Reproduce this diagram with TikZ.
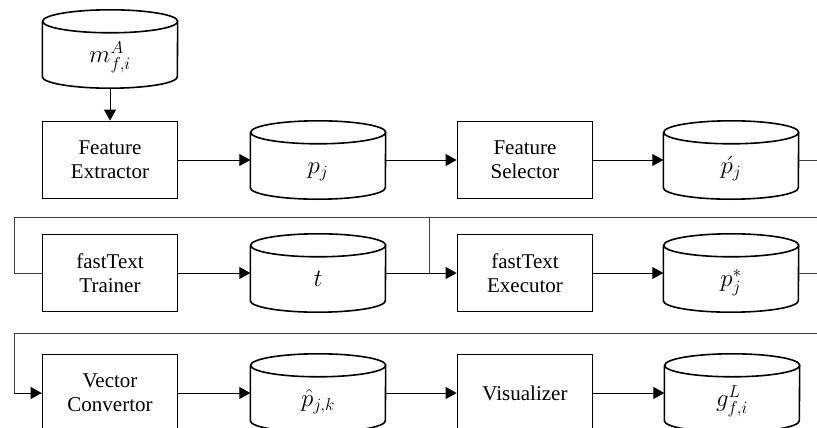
\documentclass[tikz,border=0pt]{standalone}
\usepackage{amsmath}
\usepackage{fontspec}
\setmainfont{Liberation Serif}
\usetikzlibrary{arrows.meta}
\usetikzlibrary{positioning}
\newcommand{\dsym}[1]{{\fontsize{23}{26}\selectfont$#1$}}
% cylinder outline round a store node
\newcommand{\drum}[1]{%
	\draw[drum] ([yshift=-11.5pt]#1.north west) -- ([yshift=11.5pt]#1.south west)
	arc[start angle=180, end angle=360, x radius=67.5pt, y radius=11.5pt]
	-- ([yshift=-11.5pt]#1.north east)
	arc[start angle=0, end angle=180, x radius=67.5pt, y radius=11.5pt]
	arc[start angle=180, end angle=360, x radius=67.5pt, y radius=11.5pt];}
\tikzset{
	proc/.style={draw, line width=1.8pt, minimum width=135pt, minimum height=77pt, align=center, inner sep=0pt},
	store/.style={minimum width=135pt, minimum height=78pt, inner sep=0pt, text height=28pt, text depth=1pt},
	drum/.style={line width=1.6pt, line join=round},
	arr/.style={line width=1pt, -{Triangle[length=11pt,width=12pt]}},
	wire/.style={line width=0.9pt, draw=black!75},
}

\begin{document}
\begin{tikzpicture}[x=1pt, y=1pt, font=\fontsize{21}{24}\selectfont]
	\useasboundingbox (0,0) rectangle (817,-428);
	\clip (0,0) rectangle (817,-428);
	% row 1
	\node[store] at (110,-49) (m) {\dsym{m^{A}_{f,i}}};
	\node[proc] at (110,-160) (fe) {Feature\\Extractor};
	\node[store] at (318,-160) (pj) {\dsym{p_{j}}};
	\node[proc] at (525,-160) (fs) {Feature\\Selector};
	\node[store] at (731,-160) (pp) {\dsym{\acute{p}_{j}}};
	% row 2
	\node[proc] at (110,-273) (ft) {fastText\\Trainer};
	\node[store] at (318,-273) (t) {\dsym{t}};
	\node[proc] at (525,-273) (fx) {fastText\\Executor};
	\node[store] at (731,-273) (ps) {\dsym{p^{*}_{j}}};
	% row 3
	\node[proc] at (110,-393) (vc) {Vector\\Convertor};
	\node[store] at (318,-393) (ph) {\dsym{\hat{p}_{j,k}}};
	\node[proc] at (525,-393) (vz) {Visualizer};
	\node[store] at (732,-393) (g) {\dsym{g^{L}_{f,i}}};
	\foreach \n in {m,pj,pp,t,ps,ph,g}
		\drum{\n}
	\coordinate (turn1) at (850,-217);
	\coordinate (turn2) at (850,-333);
	\coordinate (split) at (429,-217);

	\draw[arr] (m) -- (fe);
	\draw[arr] (fe) -- (pj);
	\draw[arr] (pj) -- (fs);
	\draw[arr] (fs) -- (pp);
	\draw[wire] (pp.east) -| (turn1) -- (14,-217) |- (ft.west);
	\draw[arr] (ft) -- (t);
	\draw[arr] (t) -- (fx);
	\draw[wire] (split) -- (split |- fx.west);
	\draw[arr] (fx) -- (ps);
	\draw[wire] (ps.east) -| (turn2) -- (14,-333) |- (vc.west);
	\draw[arr] (14,-393) -- (vc.west);
	\draw[arr] (vc) -- (ph);
	\draw[arr] (ph) -- (vz);
	\draw[arr] (vz) -- (g);
\end{tikzpicture}
\end{document}
